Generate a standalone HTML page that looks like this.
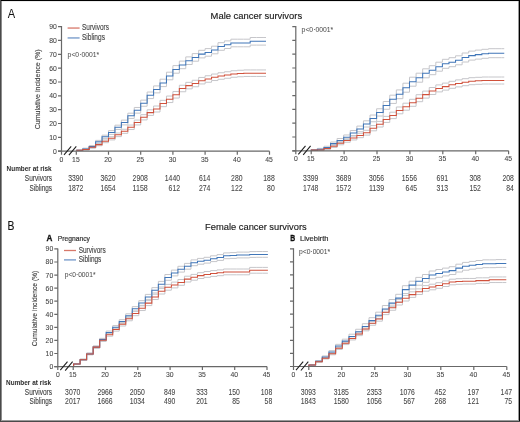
<!DOCTYPE html>
<html><head><meta charset="utf-8"><style>
html,body{margin:0;padding:0;background:#fff;width:520px;height:422px;overflow:hidden}
svg text{font-family:"Liberation Sans", sans-serif}
</style></head><body>
<svg width="520" height="422" viewBox="0 0 520 422" style="position:absolute;left:0;top:0;will-change:transform"><path d="M76.30,150.30H82.74V148.19H89.18V145.56H95.62V140.36H102.06V135.18H108.50V130.61H114.94V125.16H121.38V120.12H127.82V113.19H134.26V107.46H140.70V100.14H147.14V92.02H153.58V85.91H160.02V79.20H166.46V72.20H172.90V65.60H179.34V61.10H185.78V56.90H192.22V53.60H198.66V50.30H205.10V48.60H211.54V46.20H217.98V42.70H224.42V40.90H230.86V39.20H237.30V39.20H243.74V39.20H250.18V37.50H256.62V37.50H263.06V37.50H266.02" fill="none" stroke="#c6c6ca" stroke-width="1.0"/><path d="M76.30,150.30H82.74V149.61H89.18V147.64H95.62V143.04H102.06V138.42H108.50V134.39H114.94V129.44H121.38V124.88H127.82V118.41H134.26V113.14H140.70V106.26H147.14V98.58H153.58V92.89H160.02V86.60H166.46V79.80H172.90V73.20H179.34V68.70H185.78V64.50H192.22V61.20H198.66V57.90H205.10V56.20H211.54V53.80H217.98V50.30H224.42V48.50H230.86V46.80H237.30V46.80H243.74V46.80H250.18V45.10H256.62V45.10H263.06V45.10H266.02" fill="none" stroke="#c6c6ca" stroke-width="1.0"/><path d="M76.30,150.30H82.74V148.89H89.18V146.41H95.62V143.45H102.06V139.91H108.50V136.69H114.94V132.97H121.38V129.26H127.82V125.06H134.26V120.07H140.70V114.68H147.14V109.80H153.58V106.01H160.02V100.34H166.46V96.05H172.90V91.55H179.34V85.25H185.78V82.35H192.22V80.25H198.66V77.45H205.10V75.75H211.54V74.05H217.98V72.75H224.42V71.75H230.86V70.75H237.30V70.25H243.74V69.95H250.18V69.95H256.62V69.95H263.06V69.95H266.02" fill="none" stroke="#c6c6ca" stroke-width="1.0"/><path d="M76.30,150.30H82.74V150.11H89.18V148.19H95.62V145.75H102.06V142.69H108.50V139.91H114.94V136.63H121.38V133.34H127.82V129.54H134.26V124.93H140.70V119.92H147.14V115.40H153.58V111.99H160.02V106.66H166.46V102.55H172.90V98.05H179.34V91.75H185.78V88.85H192.22V86.75H198.66V83.95H205.10V82.25H211.54V80.55H217.98V79.25H224.42V78.25H230.86V77.25H237.30V76.75H243.74V76.45H250.18V76.45H256.62V76.45H263.06V76.45H266.02" fill="none" stroke="#c6c6ca" stroke-width="1.0"/><path d="M76.30,150.30H82.74V148.90H89.18V146.60H95.62V141.70H102.06V136.80H108.50V132.50H114.94V127.30H121.38V122.50H127.82V115.80H134.26V110.30H140.70V103.20H147.14V95.30H153.58V89.40H160.02V82.90H166.46V76.00H172.90V69.40H179.34V64.90H185.78V60.70H192.22V57.40H198.66V54.10H205.10V52.40H211.54V50.00H217.98V46.50H224.42V44.70H230.86V43.00H237.30V43.00H243.74V43.00H250.18V41.30H256.62V41.30H263.06V41.30H266.02" fill="none" stroke="#4076b8" stroke-width="1.05"/><path d="M76.30,150.30H82.74V149.50H89.18V147.30H95.62V144.60H102.06V141.30H108.50V138.30H114.94V134.80H121.38V131.30H127.82V127.30H134.26V122.50H140.70V117.30H147.14V112.60H153.58V109.00H160.02V103.50H166.46V99.30H172.90V94.80H179.34V88.50H185.78V85.60H192.22V83.50H198.66V80.70H205.10V79.00H211.54V77.30H217.98V76.00H224.42V75.00H230.86V74.00H237.30V73.50H243.74V73.20H250.18V73.20H256.62V73.20H263.06V73.20H266.02" fill="none" stroke="#d0513c" stroke-width="1.05"/><path d="M61.5,26.1V154.7M58.0,151.2H269.5" fill="none" stroke="#686868" stroke-width="1.2"/><path d="M58.0,151.20H61.5M58.0,137.36H61.5M58.0,123.51H61.5M58.0,109.67H61.5M58.0,95.82H61.5M58.0,81.98H61.5M58.0,68.13H61.5M58.0,54.29H61.5M58.0,40.44H61.5M58.0,26.60H61.5M76.30,151.2V154.7M108.50,151.2V154.7M140.70,151.2V154.7M172.90,151.2V154.7M205.10,151.2V154.7M237.30,151.2V154.7M269.50,151.2V154.7" fill="none" stroke="#686868" stroke-width="1.2"/><path d="M64.00,154.79999999999998L71.20,146.29999999999998M68.90,155.2L76.30,146.29999999999998" stroke="#222" stroke-width="1.1" fill="none"/><text x="61.5" y="161.79999999999998" font-size="7.3" fill="#454545" text-anchor="middle" font-weight="normal" textLength="3.8" lengthAdjust="spacingAndGlyphs" stroke="#454545" stroke-width="0.08" >0</text><text x="75.90" y="161.79999999999998" font-size="7.3" fill="#454545" text-anchor="middle" font-weight="normal" textLength="7.6" lengthAdjust="spacingAndGlyphs" stroke="#454545" stroke-width="0.08" >15</text><text x="108.10" y="161.79999999999998" font-size="7.3" fill="#454545" text-anchor="middle" font-weight="normal" textLength="7.6" lengthAdjust="spacingAndGlyphs" stroke="#454545" stroke-width="0.08" >20</text><text x="140.30" y="161.79999999999998" font-size="7.3" fill="#454545" text-anchor="middle" font-weight="normal" textLength="7.6" lengthAdjust="spacingAndGlyphs" stroke="#454545" stroke-width="0.08" >25</text><text x="172.50" y="161.79999999999998" font-size="7.3" fill="#454545" text-anchor="middle" font-weight="normal" textLength="7.6" lengthAdjust="spacingAndGlyphs" stroke="#454545" stroke-width="0.08" >30</text><text x="204.70" y="161.79999999999998" font-size="7.3" fill="#454545" text-anchor="middle" font-weight="normal" textLength="7.6" lengthAdjust="spacingAndGlyphs" stroke="#454545" stroke-width="0.08" >35</text><text x="236.90" y="161.79999999999998" font-size="7.3" fill="#454545" text-anchor="middle" font-weight="normal" textLength="7.6" lengthAdjust="spacingAndGlyphs" stroke="#454545" stroke-width="0.08" >40</text><text x="269.10" y="161.79999999999998" font-size="7.3" fill="#454545" text-anchor="middle" font-weight="normal" textLength="7.6" lengthAdjust="spacingAndGlyphs" stroke="#454545" stroke-width="0.08" >45</text><text x="56.9" y="153.70" font-size="7.3" fill="#454545" text-anchor="end" font-weight="normal" textLength="3.8" lengthAdjust="spacingAndGlyphs" stroke="#454545" stroke-width="0.08" >0</text><text x="56.9" y="139.86" font-size="7.3" fill="#454545" text-anchor="end" font-weight="normal" textLength="7.6" lengthAdjust="spacingAndGlyphs" stroke="#454545" stroke-width="0.08" >10</text><text x="56.9" y="126.01" font-size="7.3" fill="#454545" text-anchor="end" font-weight="normal" textLength="7.6" lengthAdjust="spacingAndGlyphs" stroke="#454545" stroke-width="0.08" >20</text><text x="56.9" y="112.17" font-size="7.3" fill="#454545" text-anchor="end" font-weight="normal" textLength="7.6" lengthAdjust="spacingAndGlyphs" stroke="#454545" stroke-width="0.08" >30</text><text x="56.9" y="98.32" font-size="7.3" fill="#454545" text-anchor="end" font-weight="normal" textLength="7.6" lengthAdjust="spacingAndGlyphs" stroke="#454545" stroke-width="0.08" >40</text><text x="56.9" y="84.48" font-size="7.3" fill="#454545" text-anchor="end" font-weight="normal" textLength="7.6" lengthAdjust="spacingAndGlyphs" stroke="#454545" stroke-width="0.08" >50</text><text x="56.9" y="70.63" font-size="7.3" fill="#454545" text-anchor="end" font-weight="normal" textLength="7.6" lengthAdjust="spacingAndGlyphs" stroke="#454545" stroke-width="0.08" >60</text><text x="56.9" y="56.79" font-size="7.3" fill="#454545" text-anchor="end" font-weight="normal" textLength="7.6" lengthAdjust="spacingAndGlyphs" stroke="#454545" stroke-width="0.08" >70</text><text x="56.9" y="42.94" font-size="7.3" fill="#454545" text-anchor="end" font-weight="normal" textLength="7.6" lengthAdjust="spacingAndGlyphs" stroke="#454545" stroke-width="0.08" >80</text><text x="56.9" y="29.10" font-size="7.3" fill="#454545" text-anchor="end" font-weight="normal" textLength="7.6" lengthAdjust="spacingAndGlyphs" stroke="#454545" stroke-width="0.08" >90</text><path d="M310.80,150.10H317.38V148.36H323.96V146.26H330.54V142.01H337.12V138.48H343.70V134.97H350.28V130.47H356.86V126.08H363.44V120.80H370.02V115.04H376.60V108.77H383.18V101.52H389.76V95.17H396.34V89.92H402.92V83.20H409.50V77.20H416.08V73.20H422.66V68.80H429.24V65.70H435.82V62.20H442.40V59.30H448.98V57.70H455.56V55.80H462.14V53.00H468.72V51.10H475.30V50.10H481.88V49.30H488.46V48.70H495.04V48.70H501.62V48.70H504.25" fill="none" stroke="#c6c6ca" stroke-width="1.0"/><path d="M310.80,150.10H317.38V150.04H323.96V148.74H330.54V145.19H337.12V142.32H343.70V139.43H350.28V135.53H356.86V131.72H363.44V127.00H370.02V121.76H376.60V116.03H383.18V109.28H389.76V103.43H396.34V98.68H402.92V92.20H409.50V86.20H416.08V82.20H422.66V77.80H429.24V74.70H435.82V71.20H442.40V68.30H448.98V66.70H455.56V64.80H462.14V62.00H468.72V60.10H475.30V59.10H481.88V58.30H488.46V57.70H495.04V57.70H501.62V57.70H504.25" fill="none" stroke="#c6c6ca" stroke-width="1.0"/><path d="M310.80,150.10H317.38V149.90H323.96V147.54H330.54V144.96H337.12V141.81H343.70V138.76H350.28V136.03H356.86V133.31H363.44V130.29H370.02V125.58H376.60V121.38H383.18V116.38H389.76V112.19H396.34V106.99H402.92V103.20H409.50V99.30H416.08V94.70H422.66V91.10H429.24V87.50H435.82V84.90H442.40V83.10H448.98V81.30H455.56V79.90H462.14V78.70H468.72V77.70H475.30V77.30H481.88V77.00H488.46V77.00H495.04V77.00H501.62V77.00H504.25" fill="none" stroke="#c6c6ca" stroke-width="1.0"/><path d="M310.80,150.10H317.38V149.90H323.96V149.46H330.54V147.44H337.12V144.79H343.70V142.24H350.28V139.97H356.86V137.69H363.44V135.11H370.02V130.82H376.60V127.02H383.18V122.42H389.76V118.61H396.34V113.81H402.92V110.20H409.50V106.30H416.08V101.70H422.66V98.10H429.24V94.50H435.82V91.90H442.40V90.10H448.98V88.30H455.56V86.90H462.14V85.70H468.72V84.70H475.30V84.30H481.88V84.00H488.46V84.00H495.04V84.00H501.62V84.00H504.25" fill="none" stroke="#c6c6ca" stroke-width="1.0"/><path d="M310.80,150.10H317.38V149.20H323.96V147.50H330.54V143.60H337.12V140.40H343.70V137.20H350.28V133.00H356.86V128.90H363.44V123.90H370.02V118.40H376.60V112.40H383.18V105.40H389.76V99.30H396.34V94.30H402.92V87.70H409.50V81.70H416.08V77.70H422.66V73.30H429.24V70.20H435.82V66.70H442.40V63.80H448.98V62.20H455.56V60.30H462.14V57.50H468.72V55.60H475.30V54.60H481.88V53.80H488.46V53.20H495.04V53.20H501.62V53.20H504.25" fill="none" stroke="#4076b8" stroke-width="1.05"/><path d="M310.80,150.10H317.38V149.90H323.96V148.50H330.54V146.20H337.12V143.30H343.70V140.50H350.28V138.00H356.86V135.50H363.44V132.70H370.02V128.20H376.60V124.20H383.18V119.40H389.76V115.40H396.34V110.40H402.92V106.70H409.50V102.80H416.08V98.20H422.66V94.60H429.24V91.00H435.82V88.40H442.40V86.60H448.98V84.80H455.56V83.40H462.14V82.20H468.72V81.20H475.30V80.80H481.88V80.50H488.46V80.50H495.04V80.50H501.62V80.50H504.25" fill="none" stroke="#d0513c" stroke-width="1.05"/><path d="M295.8,26.1V154.3M292.3,150.8H508.6" fill="none" stroke="#686868" stroke-width="1.2"/><path d="M292.3,150.80H295.8M292.3,137.00H295.8M292.3,123.20H295.8M292.3,109.40H295.8M292.3,95.60H295.8M292.3,81.80H295.8M292.3,68.00H295.8M292.3,54.20H295.8M292.3,40.40H295.8M292.3,26.60H295.8M311.20,150.8V154.3M344.10,150.8V154.3M377.00,150.8V154.3M409.90,150.8V154.3M442.80,150.8V154.3M475.70,150.8V154.3M508.60,150.8V154.3" fill="none" stroke="#686868" stroke-width="1.2"/><path d="M298.30,154.4L305.50,145.9M303.20,154.8L310.60,145.9" stroke="#222" stroke-width="1.1" fill="none"/><text x="295.8" y="161.4" font-size="7.3" fill="#454545" text-anchor="middle" font-weight="normal" textLength="3.8" lengthAdjust="spacingAndGlyphs" stroke="#454545" stroke-width="0.08" >0</text><text x="310.80" y="161.4" font-size="7.3" fill="#454545" text-anchor="middle" font-weight="normal" textLength="7.6" lengthAdjust="spacingAndGlyphs" stroke="#454545" stroke-width="0.08" >15</text><text x="343.70" y="161.4" font-size="7.3" fill="#454545" text-anchor="middle" font-weight="normal" textLength="7.6" lengthAdjust="spacingAndGlyphs" stroke="#454545" stroke-width="0.08" >20</text><text x="376.60" y="161.4" font-size="7.3" fill="#454545" text-anchor="middle" font-weight="normal" textLength="7.6" lengthAdjust="spacingAndGlyphs" stroke="#454545" stroke-width="0.08" >25</text><text x="409.50" y="161.4" font-size="7.3" fill="#454545" text-anchor="middle" font-weight="normal" textLength="7.6" lengthAdjust="spacingAndGlyphs" stroke="#454545" stroke-width="0.08" >30</text><text x="442.40" y="161.4" font-size="7.3" fill="#454545" text-anchor="middle" font-weight="normal" textLength="7.6" lengthAdjust="spacingAndGlyphs" stroke="#454545" stroke-width="0.08" >35</text><text x="475.30" y="161.4" font-size="7.3" fill="#454545" text-anchor="middle" font-weight="normal" textLength="7.6" lengthAdjust="spacingAndGlyphs" stroke="#454545" stroke-width="0.08" >40</text><text x="508.20" y="161.4" font-size="7.3" fill="#454545" text-anchor="middle" font-weight="normal" textLength="7.6" lengthAdjust="spacingAndGlyphs" stroke="#454545" stroke-width="0.08" >45</text><path d="M73.60,366.60V363.76H80.12V359.16H86.64V353.10H93.16V346.07H99.68V338.36H106.20V331.06H112.72V325.57H119.24V319.68H125.76V313.81H132.28V306.63H138.80V300.66H145.32V294.40H151.84V287.64H158.36V281.38H164.88V274.50H171.40V270.10H177.92V266.30H184.44V263.40H190.96V259.90H197.48V258.40H204.00V257.30H210.52V255.80H217.04V254.60H223.56V252.90H230.08V252.60H236.60V252.10H243.12V252.10H249.64V251.60H256.16V251.50H262.68V251.50H267.90" fill="none" stroke="#c6c6ca" stroke-width="1.0"/><path d="M73.60,366.60V364.24H80.12V360.24H86.64V354.70H93.16V348.13H99.68V340.84H106.20V333.94H112.72V328.83H119.24V323.32H125.76V317.79H132.28V310.97H138.80V305.34H145.32V299.40H151.84V292.96H158.36V287.02H164.88V280.30H171.40V275.90H177.92V272.10H184.44V269.20H190.96V265.70H197.48V264.20H204.00V263.10H210.52V261.60H217.04V260.40H223.56V258.70H230.08V258.40H236.60V257.90H243.12V257.90H249.64V257.40H256.16V257.30H262.68V257.30H267.90" fill="none" stroke="#c6c6ca" stroke-width="1.0"/><path d="M73.60,366.60V363.76H80.12V359.16H86.64V353.10H93.16V346.07H99.68V338.96H106.20V333.36H112.72V327.87H119.24V322.38H125.76V316.81H132.28V311.33H138.80V305.86H145.32V300.60H151.84V294.24H158.36V288.38H164.88V284.40H171.40V282.10H177.92V279.50H184.44V276.20H190.96V274.40H197.48V272.70H204.00V271.50H210.52V270.60H217.04V269.90H223.56V269.00H230.08V269.00H236.60V269.00H243.12V269.00H249.64V267.40H256.16V267.40H262.68V267.40H267.90" fill="none" stroke="#c6c6ca" stroke-width="1.0"/><path d="M73.60,366.60V364.24H80.12V360.24H86.64V354.70H93.16V348.13H99.68V341.44H106.20V336.24H112.72V331.13H119.24V326.02H125.76V320.79H132.28V315.67H138.80V310.54H145.32V305.60H151.84V299.56H158.36V294.02H164.88V290.20H171.40V287.90H177.92V285.30H184.44V282.00H190.96V280.20H197.48V278.50H204.00V277.30H210.52V276.40H217.04V275.70H223.56V274.80H230.08V274.80H236.60V274.80H243.12V274.80H249.64V273.20H256.16V273.20H262.68V273.20H267.90" fill="none" stroke="#c6c6ca" stroke-width="1.0"/><path d="M73.60,366.60V364.00H80.12V359.70H86.64V353.90H93.16V347.10H99.68V339.60H106.20V332.50H112.72V327.20H119.24V321.50H125.76V315.80H132.28V308.80H138.80V303.00H145.32V296.90H151.84V290.30H158.36V284.20H164.88V277.40H171.40V273.00H177.92V269.20H184.44V266.30H190.96V262.80H197.48V261.30H204.00V260.20H210.52V258.70H217.04V257.50H223.56V255.80H230.08V255.50H236.60V255.00H243.12V255.00H249.64V254.50H256.16V254.40H262.68V254.40H267.90" fill="none" stroke="#4076b8" stroke-width="1.05"/><path d="M73.60,366.60V364.00H80.12V359.70H86.64V353.90H93.16V347.10H99.68V340.20H106.20V334.80H112.72V329.50H119.24V324.20H125.76V318.80H132.28V313.50H138.80V308.20H145.32V303.10H151.84V296.90H158.36V291.20H164.88V287.30H171.40V285.00H177.92V282.40H184.44V279.10H190.96V277.30H197.48V275.60H204.00V274.40H210.52V273.50H217.04V272.80H223.56V271.90H230.08V271.90H236.60V271.90H243.12V271.90H249.64V270.30H256.16V270.30H262.68V270.30H267.90" fill="none" stroke="#d0513c" stroke-width="1.05"/><path d="M57.8,248.4V370.1M54.3,366.6H267.0" fill="none" stroke="#686868" stroke-width="1.2"/><path d="M54.3,366.60H57.8M54.3,353.52H57.8M54.3,340.44H57.8M54.3,327.37H57.8M54.3,314.29H57.8M54.3,301.21H57.8M54.3,288.13H57.8M54.3,275.06H57.8M54.3,261.98H57.8M54.3,248.90H57.8M73.20,366.6V370.1M105.50,366.6V370.1M137.80,366.6V370.1M170.10,366.6V370.1M202.40,366.6V370.1M234.70,366.6V370.1M267.00,366.6V370.1" fill="none" stroke="#686868" stroke-width="1.2"/><path d="M60.30,370.20000000000005L67.50,361.70000000000005M65.20,370.6L72.60,361.70000000000005" stroke="#222" stroke-width="1.1" fill="none"/><text x="57.8" y="377.0" font-size="7.1" fill="#454545" text-anchor="middle" font-weight="normal" textLength="3.8" lengthAdjust="spacingAndGlyphs" stroke="#454545" stroke-width="0.08" >0</text><text x="72.80" y="377.0" font-size="7.1" fill="#454545" text-anchor="middle" font-weight="normal" textLength="7.6" lengthAdjust="spacingAndGlyphs" stroke="#454545" stroke-width="0.08" >15</text><text x="105.10" y="377.0" font-size="7.1" fill="#454545" text-anchor="middle" font-weight="normal" textLength="7.6" lengthAdjust="spacingAndGlyphs" stroke="#454545" stroke-width="0.08" >20</text><text x="137.40" y="377.0" font-size="7.1" fill="#454545" text-anchor="middle" font-weight="normal" textLength="7.6" lengthAdjust="spacingAndGlyphs" stroke="#454545" stroke-width="0.08" >25</text><text x="169.70" y="377.0" font-size="7.1" fill="#454545" text-anchor="middle" font-weight="normal" textLength="7.6" lengthAdjust="spacingAndGlyphs" stroke="#454545" stroke-width="0.08" >30</text><text x="202.00" y="377.0" font-size="7.1" fill="#454545" text-anchor="middle" font-weight="normal" textLength="7.6" lengthAdjust="spacingAndGlyphs" stroke="#454545" stroke-width="0.08" >35</text><text x="234.30" y="377.0" font-size="7.1" fill="#454545" text-anchor="middle" font-weight="normal" textLength="7.6" lengthAdjust="spacingAndGlyphs" stroke="#454545" stroke-width="0.08" >40</text><text x="266.60" y="377.0" font-size="7.1" fill="#454545" text-anchor="middle" font-weight="normal" textLength="7.6" lengthAdjust="spacingAndGlyphs" stroke="#454545" stroke-width="0.08" >45</text><text x="53.199999999999996" y="369.10" font-size="7.1" fill="#454545" text-anchor="end" font-weight="normal" textLength="3.8" lengthAdjust="spacingAndGlyphs" stroke="#454545" stroke-width="0.08" >0</text><text x="53.199999999999996" y="356.02" font-size="7.1" fill="#454545" text-anchor="end" font-weight="normal" textLength="7.6" lengthAdjust="spacingAndGlyphs" stroke="#454545" stroke-width="0.08" >10</text><text x="53.199999999999996" y="342.94" font-size="7.1" fill="#454545" text-anchor="end" font-weight="normal" textLength="7.6" lengthAdjust="spacingAndGlyphs" stroke="#454545" stroke-width="0.08" >20</text><text x="53.199999999999996" y="329.87" font-size="7.1" fill="#454545" text-anchor="end" font-weight="normal" textLength="7.6" lengthAdjust="spacingAndGlyphs" stroke="#454545" stroke-width="0.08" >30</text><text x="53.199999999999996" y="316.79" font-size="7.1" fill="#454545" text-anchor="end" font-weight="normal" textLength="7.6" lengthAdjust="spacingAndGlyphs" stroke="#454545" stroke-width="0.08" >40</text><text x="53.199999999999996" y="303.71" font-size="7.1" fill="#454545" text-anchor="end" font-weight="normal" textLength="7.6" lengthAdjust="spacingAndGlyphs" stroke="#454545" stroke-width="0.08" >50</text><text x="53.199999999999996" y="290.63" font-size="7.1" fill="#454545" text-anchor="end" font-weight="normal" textLength="7.6" lengthAdjust="spacingAndGlyphs" stroke="#454545" stroke-width="0.08" >60</text><text x="53.199999999999996" y="277.56" font-size="7.1" fill="#454545" text-anchor="end" font-weight="normal" textLength="7.6" lengthAdjust="spacingAndGlyphs" stroke="#454545" stroke-width="0.08" >70</text><text x="53.199999999999996" y="264.48" font-size="7.1" fill="#454545" text-anchor="end" font-weight="normal" textLength="7.6" lengthAdjust="spacingAndGlyphs" stroke="#454545" stroke-width="0.08" >80</text><text x="53.199999999999996" y="251.40" font-size="7.1" fill="#454545" text-anchor="end" font-weight="normal" textLength="7.6" lengthAdjust="spacingAndGlyphs" stroke="#454545" stroke-width="0.08" >90</text><path d="M308.90,366.50V365.00H315.58V360.57H322.26V355.93H328.94V350.62H335.62V344.34H342.30V339.16H348.98V334.21H355.66V329.26H362.34V323.72H369.02V317.68H375.70V312.16H382.38V305.53H389.06V299.52H395.74V294.30H402.42V285.70H409.10V281.20H415.78V277.40H422.46V274.50H429.14V271.00H435.82V269.50H442.50V268.10H449.18V266.70H455.86V264.20H462.54V262.40H469.22V261.40H475.90V260.50H482.58V259.85H489.26V259.85H495.94V259.60H502.62V259.60H506.29" fill="none" stroke="#c6c6ca" stroke-width="1.0"/><path d="M308.90,366.50V365.00H315.58V362.03H322.26V358.07H328.94V353.38H335.62V347.66H342.30V343.04H348.98V338.59H355.66V334.14H362.34V329.08H369.02V323.52H375.70V318.44H382.38V312.27H389.06V306.68H395.74V301.90H402.42V293.50H409.10V289.00H415.78V285.20H422.46V282.30H429.14V278.80H435.82V277.30H442.50V275.90H449.18V274.50H455.86V272.00H462.54V270.20H469.22V269.20H475.90V268.30H482.58V267.65H489.26V267.65H495.94V267.40H502.62V267.40H506.29" fill="none" stroke="#c6c6ca" stroke-width="1.0"/><path d="M308.90,366.50V365.00H315.58V361.28H322.26V357.43H328.94V352.81H335.62V347.00H342.30V341.81H348.98V336.83H355.66V332.15H362.34V326.97H369.02V321.11H375.70V316.64H382.38V309.78H389.06V305.13H395.74V299.58H402.42V295.40H409.10V291.80H415.78V288.90H422.46V285.60H429.14V284.20H435.82V282.70H442.50V280.90H449.18V279.20H455.86V278.70H462.54V278.45H469.22V278.45H475.90V277.80H482.58V277.80H489.26V276.95H495.94V276.95H502.62V276.95H506.29" fill="none" stroke="#c6c6ca" stroke-width="1.0"/><path d="M308.90,366.50V365.00H315.58V362.32H322.26V358.97H328.94V354.79H335.62V349.40H342.30V344.59H348.98V339.97H355.66V335.65H362.34V330.83H369.02V325.29H375.70V321.16H382.38V314.62H389.06V310.27H395.74V305.02H402.42V301.00H409.10V297.40H415.78V294.50H422.46V291.20H429.14V289.80H435.82V288.30H442.50V286.50H449.18V284.80H455.86V284.30H462.54V284.05H469.22V284.05H475.90V283.40H482.58V283.40H489.26V282.55H495.94V282.55H502.62V282.55H506.29" fill="none" stroke="#c6c6ca" stroke-width="1.0"/><path d="M308.90,366.50V365.00H315.58V361.30H322.26V357.00H328.94V352.00H335.62V346.00H342.30V341.10H348.98V336.40H355.66V331.70H362.34V326.40H369.02V320.60H375.70V315.30H382.38V308.90H389.06V303.10H395.74V298.10H402.42V289.60H409.10V285.10H415.78V281.30H422.46V278.40H429.14V274.90H435.82V273.40H442.50V272.00H449.18V270.60H455.86V268.10H462.54V266.30H469.22V265.30H475.90V264.40H482.58V263.75H489.26V263.75H495.94V263.50H502.62V263.50H506.29" fill="none" stroke="#4076b8" stroke-width="1.05"/><path d="M308.90,366.50V365.00H315.58V361.80H322.26V358.20H328.94V353.80H335.62V348.20H342.30V343.20H348.98V338.40H355.66V333.90H362.34V328.90H369.02V323.20H375.70V318.90H382.38V312.20H389.06V307.70H395.74V302.30H402.42V298.20H409.10V294.60H415.78V291.70H422.46V288.40H429.14V287.00H435.82V285.50H442.50V283.70H449.18V282.00H455.86V281.50H462.54V281.25H469.22V281.25H475.90V280.60H482.58V280.60H489.26V279.75H495.94V279.75H502.62V279.75H506.29" fill="none" stroke="#d0513c" stroke-width="1.05"/><path d="M293.5,248.3V370.0M290.0,366.5H506.8" fill="none" stroke="#686868" stroke-width="1.2"/><path d="M290.0,366.50H293.5M290.0,353.42H293.5M290.0,340.34H293.5M290.0,327.27H293.5M290.0,314.19H293.5M290.0,301.11H293.5M290.0,288.03H293.5M290.0,274.96H293.5M290.0,261.88H293.5M290.0,248.80H293.5M308.80,366.5V370.0M341.80,366.5V370.0M374.80,366.5V370.0M407.80,366.5V370.0M440.80,366.5V370.0M473.80,366.5V370.0M506.80,366.5V370.0" fill="none" stroke="#686868" stroke-width="1.2"/><path d="M296.00,370.1L303.20,361.6M300.90,370.5L308.30,361.6" stroke="#222" stroke-width="1.1" fill="none"/><text x="293.5" y="376.9" font-size="7.1" fill="#454545" text-anchor="middle" font-weight="normal" textLength="3.8" lengthAdjust="spacingAndGlyphs" stroke="#454545" stroke-width="0.08" >0</text><text x="308.40" y="376.9" font-size="7.1" fill="#454545" text-anchor="middle" font-weight="normal" textLength="7.6" lengthAdjust="spacingAndGlyphs" stroke="#454545" stroke-width="0.08" >15</text><text x="341.40" y="376.9" font-size="7.1" fill="#454545" text-anchor="middle" font-weight="normal" textLength="7.6" lengthAdjust="spacingAndGlyphs" stroke="#454545" stroke-width="0.08" >20</text><text x="374.40" y="376.9" font-size="7.1" fill="#454545" text-anchor="middle" font-weight="normal" textLength="7.6" lengthAdjust="spacingAndGlyphs" stroke="#454545" stroke-width="0.08" >25</text><text x="407.40" y="376.9" font-size="7.1" fill="#454545" text-anchor="middle" font-weight="normal" textLength="7.6" lengthAdjust="spacingAndGlyphs" stroke="#454545" stroke-width="0.08" >30</text><text x="440.40" y="376.9" font-size="7.1" fill="#454545" text-anchor="middle" font-weight="normal" textLength="7.6" lengthAdjust="spacingAndGlyphs" stroke="#454545" stroke-width="0.08" >35</text><text x="473.40" y="376.9" font-size="7.1" fill="#454545" text-anchor="middle" font-weight="normal" textLength="7.6" lengthAdjust="spacingAndGlyphs" stroke="#454545" stroke-width="0.08" >40</text><text x="506.40" y="376.9" font-size="7.1" fill="#454545" text-anchor="middle" font-weight="normal" textLength="7.6" lengthAdjust="spacingAndGlyphs" stroke="#454545" stroke-width="0.08" >45</text><text x="7.8" y="17.7" font-size="12.4" fill="#111" text-anchor="start" font-weight="400" textLength="7.4" lengthAdjust="spacingAndGlyphs" >A</text><text x="7.5" y="229.9" font-size="12.4" fill="#111" text-anchor="start" font-weight="normal" textLength="6.9" lengthAdjust="spacingAndGlyphs" stroke="#111" stroke-width="0.15" >B</text><text x="210.6" y="18.6" font-size="9.8" fill="#1a1a1a" text-anchor="start" font-weight="normal" textLength="91.5" lengthAdjust="spacingAndGlyphs" stroke="#1a1a1a" stroke-width="0.15" >Male cancer survivors</text><text x="205.1" y="229.9" font-size="9.8" fill="#1a1a1a" text-anchor="start" font-weight="normal" textLength="101.6" lengthAdjust="spacingAndGlyphs" stroke="#1a1a1a" stroke-width="0.15" >Female cancer survivors</text><text x="46.6" y="240.8" font-size="8.6" fill="#111" text-anchor="start" font-weight="bold" textLength="5.9" lengthAdjust="spacingAndGlyphs" stroke="#111" stroke-width="0.3" >A</text><text x="57.7" y="240.6" font-size="7.0" fill="#333" text-anchor="start" font-weight="normal" textLength="32.2" lengthAdjust="spacingAndGlyphs" stroke="#333" stroke-width="0.2" >Pregnancy</text><text x="290.2" y="240.8" font-size="8.6" fill="#111" text-anchor="start" font-weight="bold" textLength="5.0" lengthAdjust="spacingAndGlyphs" stroke="#111" stroke-width="0.3" >B</text><text x="300.0" y="240.6" font-size="7.0" fill="#333" text-anchor="start" font-weight="normal" textLength="28.4" lengthAdjust="spacingAndGlyphs" stroke="#333" stroke-width="0.2" >Livebirth</text><text x="0" y="0" font-size="7.6" fill="#454545" text-anchor="middle" font-weight="normal" textLength="80" lengthAdjust="spacingAndGlyphs" stroke="#454545" stroke-width="0.15" transform="translate(39.6,89.3) rotate(-90)">Cumulative incidence (%)</text><text x="0" y="0" font-size="7.4" fill="#454545" text-anchor="middle" font-weight="normal" textLength="75.5" lengthAdjust="spacingAndGlyphs" stroke="#454545" stroke-width="0.15" transform="translate(36.6,308.5) rotate(-90)">Cumulative incidence (%)</text><path d="M67.6,28.05H79.6" stroke="#d7786a" stroke-width="1.3"/><path d="M67.6,37.95H79.6" stroke="#7096c8" stroke-width="1.3"/><text x="82.0" y="30.3" font-size="8.8" fill="#454545" text-anchor="start" font-weight="normal" textLength="26.9" lengthAdjust="spacingAndGlyphs" stroke="#454545" stroke-width="0.15" >Survivors</text><text x="82.0" y="40.2" font-size="8.8" fill="#454545" text-anchor="start" font-weight="normal" textLength="22.9" lengthAdjust="spacingAndGlyphs" stroke="#454545" stroke-width="0.15" >Siblings</text><path d="M64.0,250.5H76.0" stroke="#d7786a" stroke-width="1.3"/><path d="M64.0,259.9H76.0" stroke="#7096c8" stroke-width="1.3"/><text x="78.7" y="252.8" font-size="8.6" fill="#454545" text-anchor="start" font-weight="normal" textLength="27.0" lengthAdjust="spacingAndGlyphs" stroke="#454545" stroke-width="0.15" >Survivors</text><text x="78.7" y="262.2" font-size="8.6" fill="#454545" text-anchor="start" font-weight="normal" textLength="22.6" lengthAdjust="spacingAndGlyphs" stroke="#454545" stroke-width="0.15" >Siblings</text><text x="67.6" y="56.8" font-size="7.7" fill="#505050" text-anchor="start" font-weight="normal" textLength="31.6" lengthAdjust="spacingAndGlyphs" stroke="#505050" stroke-width="0.05" >p&lt;0·0001*</text><text x="301.6" y="32.0" font-size="7.7" fill="#505050" text-anchor="start" font-weight="normal" textLength="31.6" lengthAdjust="spacingAndGlyphs" stroke="#505050" stroke-width="0.05" >p&lt;0·0001*</text><text x="64.7" y="277.2" font-size="7.5" fill="#505050" text-anchor="start" font-weight="normal" textLength="30.8" lengthAdjust="spacingAndGlyphs" stroke="#505050" stroke-width="0.05" >p&lt;0·0001*</text><text x="299.0" y="254.0" font-size="7.5" fill="#505050" text-anchor="start" font-weight="normal" textLength="31.2" lengthAdjust="spacingAndGlyphs" stroke="#505050" stroke-width="0.05" >p&lt;0·0001*</text><text x="6.6" y="170.8" font-size="7.0" fill="#2a2a2a" text-anchor="start" font-weight="bold" textLength="45" lengthAdjust="spacingAndGlyphs" >Number at risk</text><text x="52" y="181.3" font-size="8.8" fill="#454545" text-anchor="end" font-weight="normal" textLength="27.2" lengthAdjust="spacingAndGlyphs" stroke="#454545" stroke-width="0.15" >Survivors</text><text x="52" y="190.9" font-size="8.8" fill="#454545" text-anchor="end" font-weight="normal" textLength="22.4" lengthAdjust="spacingAndGlyphs" stroke="#454545" stroke-width="0.15" >Siblings</text><text x="83.40" y="181.3" font-size="8.6" fill="#454545" text-anchor="end" font-weight="normal" textLength="15.2" lengthAdjust="spacingAndGlyphs" stroke="#454545" stroke-width="0.08" >3390</text><text x="83.40" y="190.9" font-size="8.6" fill="#454545" text-anchor="end" font-weight="normal" textLength="15.2" lengthAdjust="spacingAndGlyphs" stroke="#454545" stroke-width="0.08" >1872</text><text x="115.60" y="181.3" font-size="8.6" fill="#454545" text-anchor="end" font-weight="normal" textLength="15.2" lengthAdjust="spacingAndGlyphs" stroke="#454545" stroke-width="0.08" >3620</text><text x="115.60" y="190.9" font-size="8.6" fill="#454545" text-anchor="end" font-weight="normal" textLength="15.2" lengthAdjust="spacingAndGlyphs" stroke="#454545" stroke-width="0.08" >1654</text><text x="147.80" y="181.3" font-size="8.6" fill="#454545" text-anchor="end" font-weight="normal" textLength="15.2" lengthAdjust="spacingAndGlyphs" stroke="#454545" stroke-width="0.08" >2908</text><text x="147.80" y="190.9" font-size="8.6" fill="#454545" text-anchor="end" font-weight="normal" textLength="15.2" lengthAdjust="spacingAndGlyphs" stroke="#454545" stroke-width="0.08" >1158</text><text x="180.00" y="181.3" font-size="8.6" fill="#454545" text-anchor="end" font-weight="normal" textLength="15.2" lengthAdjust="spacingAndGlyphs" stroke="#454545" stroke-width="0.08" >1440</text><text x="180.00" y="190.9" font-size="8.6" fill="#454545" text-anchor="end" font-weight="normal" textLength="11.4" lengthAdjust="spacingAndGlyphs" stroke="#454545" stroke-width="0.08" >612</text><text x="210.30" y="181.3" font-size="8.6" fill="#454545" text-anchor="end" font-weight="normal" textLength="11.4" lengthAdjust="spacingAndGlyphs" stroke="#454545" stroke-width="0.08" >614</text><text x="210.30" y="190.9" font-size="8.6" fill="#454545" text-anchor="end" font-weight="normal" textLength="11.4" lengthAdjust="spacingAndGlyphs" stroke="#454545" stroke-width="0.08" >274</text><text x="242.50" y="181.3" font-size="8.6" fill="#454545" text-anchor="end" font-weight="normal" textLength="11.4" lengthAdjust="spacingAndGlyphs" stroke="#454545" stroke-width="0.08" >280</text><text x="242.50" y="190.9" font-size="8.6" fill="#454545" text-anchor="end" font-weight="normal" textLength="11.4" lengthAdjust="spacingAndGlyphs" stroke="#454545" stroke-width="0.08" >122</text><text x="274.70" y="181.3" font-size="8.6" fill="#454545" text-anchor="end" font-weight="normal" textLength="11.4" lengthAdjust="spacingAndGlyphs" stroke="#454545" stroke-width="0.08" >188</text><text x="274.70" y="190.9" font-size="8.6" fill="#454545" text-anchor="end" font-weight="normal" textLength="7.6" lengthAdjust="spacingAndGlyphs" stroke="#454545" stroke-width="0.08" >80</text><text x="318.30" y="181.3" font-size="8.6" fill="#454545" text-anchor="end" font-weight="normal" textLength="15.2" lengthAdjust="spacingAndGlyphs" stroke="#454545" stroke-width="0.08" >3399</text><text x="318.30" y="190.9" font-size="8.6" fill="#454545" text-anchor="end" font-weight="normal" textLength="15.2" lengthAdjust="spacingAndGlyphs" stroke="#454545" stroke-width="0.08" >1748</text><text x="351.20" y="181.3" font-size="8.6" fill="#454545" text-anchor="end" font-weight="normal" textLength="15.2" lengthAdjust="spacingAndGlyphs" stroke="#454545" stroke-width="0.08" >3689</text><text x="351.20" y="190.9" font-size="8.6" fill="#454545" text-anchor="end" font-weight="normal" textLength="15.2" lengthAdjust="spacingAndGlyphs" stroke="#454545" stroke-width="0.08" >1572</text><text x="384.10" y="181.3" font-size="8.6" fill="#454545" text-anchor="end" font-weight="normal" textLength="15.2" lengthAdjust="spacingAndGlyphs" stroke="#454545" stroke-width="0.08" >3056</text><text x="384.10" y="190.9" font-size="8.6" fill="#454545" text-anchor="end" font-weight="normal" textLength="15.2" lengthAdjust="spacingAndGlyphs" stroke="#454545" stroke-width="0.08" >1139</text><text x="417.00" y="181.3" font-size="8.6" fill="#454545" text-anchor="end" font-weight="normal" textLength="15.2" lengthAdjust="spacingAndGlyphs" stroke="#454545" stroke-width="0.08" >1556</text><text x="417.00" y="190.9" font-size="8.6" fill="#454545" text-anchor="end" font-weight="normal" textLength="11.4" lengthAdjust="spacingAndGlyphs" stroke="#454545" stroke-width="0.08" >645</text><text x="448.00" y="181.3" font-size="8.6" fill="#454545" text-anchor="end" font-weight="normal" textLength="11.4" lengthAdjust="spacingAndGlyphs" stroke="#454545" stroke-width="0.08" >691</text><text x="448.00" y="190.9" font-size="8.6" fill="#454545" text-anchor="end" font-weight="normal" textLength="11.4" lengthAdjust="spacingAndGlyphs" stroke="#454545" stroke-width="0.08" >313</text><text x="480.90" y="181.3" font-size="8.6" fill="#454545" text-anchor="end" font-weight="normal" textLength="11.4" lengthAdjust="spacingAndGlyphs" stroke="#454545" stroke-width="0.08" >308</text><text x="480.90" y="190.9" font-size="8.6" fill="#454545" text-anchor="end" font-weight="normal" textLength="11.4" lengthAdjust="spacingAndGlyphs" stroke="#454545" stroke-width="0.08" >152</text><text x="513.80" y="181.3" font-size="8.6" fill="#454545" text-anchor="end" font-weight="normal" textLength="11.4" lengthAdjust="spacingAndGlyphs" stroke="#454545" stroke-width="0.08" >208</text><text x="513.80" y="190.9" font-size="8.6" fill="#454545" text-anchor="end" font-weight="normal" textLength="7.6" lengthAdjust="spacingAndGlyphs" stroke="#454545" stroke-width="0.08" >84</text><text x="6.1" y="385.3" font-size="7.0" fill="#2a2a2a" text-anchor="start" font-weight="bold" textLength="45" lengthAdjust="spacingAndGlyphs" >Number at risk</text><text x="52" y="394.9" font-size="8.8" fill="#454545" text-anchor="end" font-weight="normal" textLength="27.2" lengthAdjust="spacingAndGlyphs" stroke="#454545" stroke-width="0.15" >Survivors</text><text x="52" y="403.9" font-size="8.8" fill="#454545" text-anchor="end" font-weight="normal" textLength="22.4" lengthAdjust="spacingAndGlyphs" stroke="#454545" stroke-width="0.15" >Siblings</text><text x="80.30" y="394.9" font-size="8.3" fill="#454545" text-anchor="end" font-weight="normal" textLength="15.2" lengthAdjust="spacingAndGlyphs" stroke="#454545" stroke-width="0.08" >3070</text><text x="80.30" y="403.9" font-size="8.3" fill="#454545" text-anchor="end" font-weight="normal" textLength="15.2" lengthAdjust="spacingAndGlyphs" stroke="#454545" stroke-width="0.08" >2017</text><text x="112.60" y="394.9" font-size="8.3" fill="#454545" text-anchor="end" font-weight="normal" textLength="15.2" lengthAdjust="spacingAndGlyphs" stroke="#454545" stroke-width="0.08" >2966</text><text x="112.60" y="403.9" font-size="8.3" fill="#454545" text-anchor="end" font-weight="normal" textLength="15.2" lengthAdjust="spacingAndGlyphs" stroke="#454545" stroke-width="0.08" >1666</text><text x="144.90" y="394.9" font-size="8.3" fill="#454545" text-anchor="end" font-weight="normal" textLength="15.2" lengthAdjust="spacingAndGlyphs" stroke="#454545" stroke-width="0.08" >2050</text><text x="144.90" y="403.9" font-size="8.3" fill="#454545" text-anchor="end" font-weight="normal" textLength="15.2" lengthAdjust="spacingAndGlyphs" stroke="#454545" stroke-width="0.08" >1034</text><text x="175.30" y="394.9" font-size="8.3" fill="#454545" text-anchor="end" font-weight="normal" textLength="11.4" lengthAdjust="spacingAndGlyphs" stroke="#454545" stroke-width="0.08" >849</text><text x="175.30" y="403.9" font-size="8.3" fill="#454545" text-anchor="end" font-weight="normal" textLength="11.4" lengthAdjust="spacingAndGlyphs" stroke="#454545" stroke-width="0.08" >490</text><text x="207.60" y="394.9" font-size="8.3" fill="#454545" text-anchor="end" font-weight="normal" textLength="11.4" lengthAdjust="spacingAndGlyphs" stroke="#454545" stroke-width="0.08" >333</text><text x="207.60" y="403.9" font-size="8.3" fill="#454545" text-anchor="end" font-weight="normal" textLength="11.4" lengthAdjust="spacingAndGlyphs" stroke="#454545" stroke-width="0.08" >201</text><text x="239.90" y="394.9" font-size="8.3" fill="#454545" text-anchor="end" font-weight="normal" textLength="11.4" lengthAdjust="spacingAndGlyphs" stroke="#454545" stroke-width="0.08" >150</text><text x="239.90" y="403.9" font-size="8.3" fill="#454545" text-anchor="end" font-weight="normal" textLength="7.6" lengthAdjust="spacingAndGlyphs" stroke="#454545" stroke-width="0.08" >85</text><text x="272.20" y="394.9" font-size="8.3" fill="#454545" text-anchor="end" font-weight="normal" textLength="11.4" lengthAdjust="spacingAndGlyphs" stroke="#454545" stroke-width="0.08" >108</text><text x="272.20" y="403.9" font-size="8.3" fill="#454545" text-anchor="end" font-weight="normal" textLength="7.6" lengthAdjust="spacingAndGlyphs" stroke="#454545" stroke-width="0.08" >58</text><text x="315.90" y="394.9" font-size="8.3" fill="#454545" text-anchor="end" font-weight="normal" textLength="15.2" lengthAdjust="spacingAndGlyphs" stroke="#454545" stroke-width="0.08" >3093</text><text x="315.90" y="403.9" font-size="8.3" fill="#454545" text-anchor="end" font-weight="normal" textLength="15.2" lengthAdjust="spacingAndGlyphs" stroke="#454545" stroke-width="0.08" >1843</text><text x="348.90" y="394.9" font-size="8.3" fill="#454545" text-anchor="end" font-weight="normal" textLength="15.2" lengthAdjust="spacingAndGlyphs" stroke="#454545" stroke-width="0.08" >3185</text><text x="348.90" y="403.9" font-size="8.3" fill="#454545" text-anchor="end" font-weight="normal" textLength="15.2" lengthAdjust="spacingAndGlyphs" stroke="#454545" stroke-width="0.08" >1580</text><text x="381.90" y="394.9" font-size="8.3" fill="#454545" text-anchor="end" font-weight="normal" textLength="15.2" lengthAdjust="spacingAndGlyphs" stroke="#454545" stroke-width="0.08" >2353</text><text x="381.90" y="403.9" font-size="8.3" fill="#454545" text-anchor="end" font-weight="normal" textLength="15.2" lengthAdjust="spacingAndGlyphs" stroke="#454545" stroke-width="0.08" >1056</text><text x="414.90" y="394.9" font-size="8.3" fill="#454545" text-anchor="end" font-weight="normal" textLength="15.2" lengthAdjust="spacingAndGlyphs" stroke="#454545" stroke-width="0.08" >1076</text><text x="414.90" y="403.9" font-size="8.3" fill="#454545" text-anchor="end" font-weight="normal" textLength="11.4" lengthAdjust="spacingAndGlyphs" stroke="#454545" stroke-width="0.08" >567</text><text x="446.00" y="394.9" font-size="8.3" fill="#454545" text-anchor="end" font-weight="normal" textLength="11.4" lengthAdjust="spacingAndGlyphs" stroke="#454545" stroke-width="0.08" >452</text><text x="446.00" y="403.9" font-size="8.3" fill="#454545" text-anchor="end" font-weight="normal" textLength="11.4" lengthAdjust="spacingAndGlyphs" stroke="#454545" stroke-width="0.08" >268</text><text x="479.00" y="394.9" font-size="8.3" fill="#454545" text-anchor="end" font-weight="normal" textLength="11.4" lengthAdjust="spacingAndGlyphs" stroke="#454545" stroke-width="0.08" >197</text><text x="479.00" y="403.9" font-size="8.3" fill="#454545" text-anchor="end" font-weight="normal" textLength="11.4" lengthAdjust="spacingAndGlyphs" stroke="#454545" stroke-width="0.08" >121</text><text x="512.00" y="394.9" font-size="8.3" fill="#454545" text-anchor="end" font-weight="normal" textLength="11.4" lengthAdjust="spacingAndGlyphs" stroke="#454545" stroke-width="0.08" >147</text><text x="512.00" y="403.9" font-size="8.3" fill="#454545" text-anchor="end" font-weight="normal" textLength="7.6" lengthAdjust="spacingAndGlyphs" stroke="#454545" stroke-width="0.08" >75</text><rect x="0" y="0" width="520" height="1" fill="#000"/><rect x="0" y="1" width="520" height="1" fill="#ececec"/><rect x="0" y="0" width="1" height="422" fill="#4a4a4a"/><rect x="1" y="1" width="1" height="420" fill="#8c8c8c"/><rect x="519" y="0" width="1" height="422" fill="#000"/><rect x="518" y="1" width="1" height="420" fill="#9a9a9a"/><rect x="0" y="421" width="520" height="1" fill="#4a4a4a"/><rect x="1" y="420" width="518" height="1" fill="#9a9a9a"/></svg>
</body></html>
